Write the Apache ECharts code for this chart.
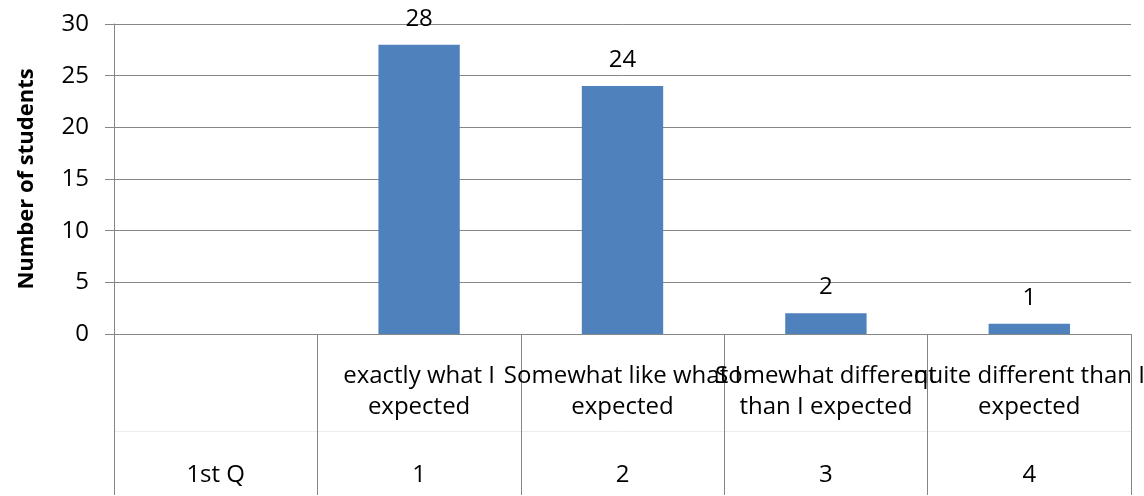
<!DOCTYPE html>
<html>
<head>
<meta charset="utf-8">
<title>Number of students per answer</title>
<script src="https://cdn.jsdelivr.net/npm/echarts@6/dist/echarts.min.js"></script>
<style>
  html, body { margin: 0; padding: 0; background: #fff; }
  #chart { width: 1144px; height: 496px; }
</style>
</head>
<body>
<div id="chart"></div>
<script>
// Answer texts (first row under the axis) and answer codes (second row)
const answerTexts = [
  '',
  'exactly what I\nexpected',
  'Somewhat like what I\nexpected',
  'Somewhat different\nthan I expected',
  'quite different than I\nexpected'
];
const answerCodes = ['1st Q', '1', '2', '3', '4'];
// Number of students choosing each answer (no bar for the header column)
const studentCounts = [null, 28, 24, 2, 1];
const yTicks = { min: 0, max: 30, interval: 5 };

const FONT = 'Open Sans';
const FS = 24;
const GRID = '#868686';

const chart = echarts.init(document.getElementById('chart'), null, { renderer: 'canvas' });

chart.setOption({
  animation: false,
  backgroundColor: '#ffffff',
  textStyle: { fontFamily: FONT, color: '#000' },
  grid: {
    left: 114, right: 13, top: 24, bottom: 162,
    containLabel: false, outerBoundsMode: 'none'
  },
  xAxis: [
    {
      type: 'category',
      data: answerTexts,
      position: 'bottom',
      axisLine: { show: true, lineStyle: { color: GRID, width: 1 } },
      axisTick: { show: true, interval: 0, length: 161, lineStyle: { color: GRID, width: 1 } },
      axisLabel: {
        interval: 0, margin: 27, fontFamily: FONT, fontSize: FS,
        lineHeight: 31, color: '#000', align: 'center'
      },
      splitLine: { show: false }
    },
    {
      type: 'category',
      data: answerCodes,
      position: 'bottom',
      offset: 97,
      axisLine: { show: true, lineStyle: { color: '#ececec', width: 1 } },
      axisTick: { show: false },
      axisLabel: {
        interval: 0, margin: 32, fontFamily: FONT, fontSize: FS,
        lineHeight: 24, color: '#000'
      },
      splitLine: { show: false }
    }
  ],
  yAxis: {
    type: 'value',
    min: yTicks.min, max: yTicks.max, interval: yTicks.interval,
    name: 'Number of students',
    nameLocation: 'middle',
    nameGap: 76,
    nameRotate: 90,
    nameTextStyle: { fontFamily: FONT, fontSize: 22, fontWeight: 'bold', color: '#000' },
    axisLine: { show: true, lineStyle: { color: GRID, width: 1 } },
    axisTick: { show: true, length: 9, lineStyle: { color: GRID, width: 1 } },
    axisLabel: { margin: 25, fontFamily: FONT, fontSize: FS, color: '#000' },
    splitLine: { show: true, lineStyle: { color: GRID, width: 1 } }
  },
  series: [{
    type: 'bar',
    xAxisIndex: 0,
    data: studentCounts,
    barWidth: '40%',
    itemStyle: { color: '#4F81BD' },
    label: {
      show: true, position: 'top', distance: 14,
      fontFamily: FONT, fontSize: FS, color: '#000'
    }
  }]
});
</script>
</body>
</html>
